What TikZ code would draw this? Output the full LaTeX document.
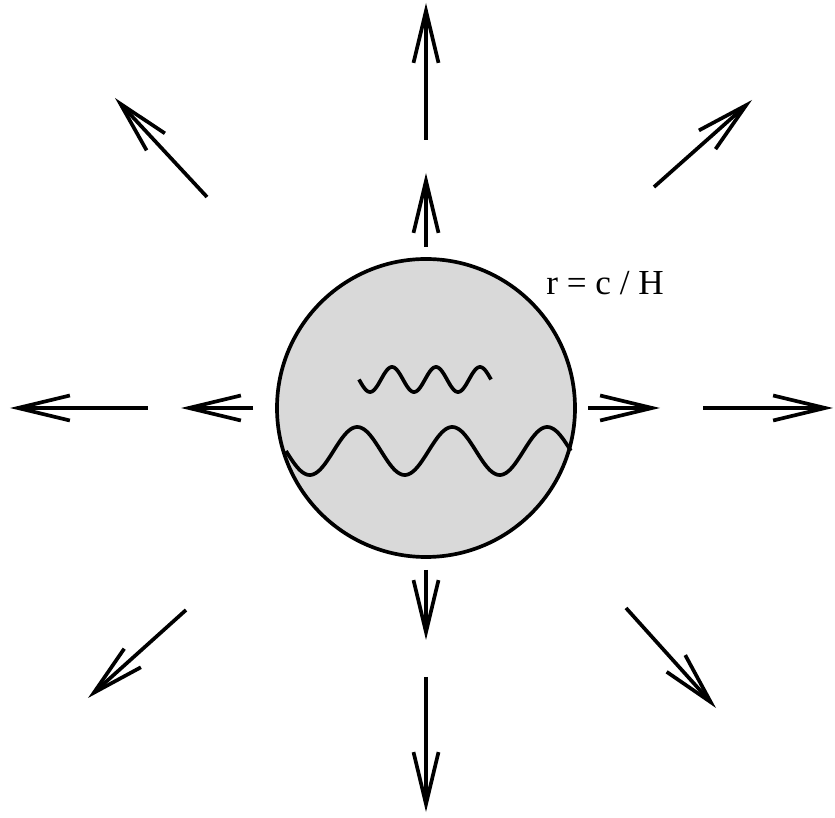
\documentclass[tikz,border=0pt]{standalone}
\usepackage{fontspec}
\setmainfont{Liberation Serif}
\usetikzlibrary{arrows.meta}
\tikzset{
  outflow/.style={line width=1.05pt, -{Straight Barb[length=5.2mm,width=2.5mm,line width=1.05pt]}},
  wave/.style={line width=1.05pt, smooth},
}
\begin{document}
\begin{tikzpicture}
\useasboundingbox (-4.26,-4.10) rectangle (4.09,4.08);
\draw[line width=1.05pt, fill=black!15] (0,0) coordinate (centre) circle (1.49);
% radial arrows, inner ring then outer ring
\foreach \xa/\ya/\xb/\yb in {0/1.61/0/2.35, -1.73/0/-2.45/0, 1.62/0/2.34/0, 0/-1.62/0/-2.32,
  0/2.68/0/4.05, -2.78/0/-4.16/0, 2.77/0/4.07/0, 0/-2.69/0/-4.04,
  -2.19/2.11/-3.11/3.10, 2.28/2.21/3.26/3.08, -2.40/-2.02/-3.38/-2.90, 2.00/-2.00/2.90/-3.00}
  \draw[outflow] (\xa,\ya) -- (\xb,\yb);
% short and long waves inside the horizon
\draw[wave] plot[domain=0:3, samples=120] ({-0.67+\x*0.44}, {0.285-0.125*sin(\x*360)});
\draw[wave] plot[domain=0:3, samples=160] ({-1.40+\x*0.95}, {-0.43-0.24*sin(\x*360)});
\node[font=\fontsize{10}{12}\selectfont] (radius) at (1.79,1.25) {r = c / H};
\end{tikzpicture}
\end{document}
